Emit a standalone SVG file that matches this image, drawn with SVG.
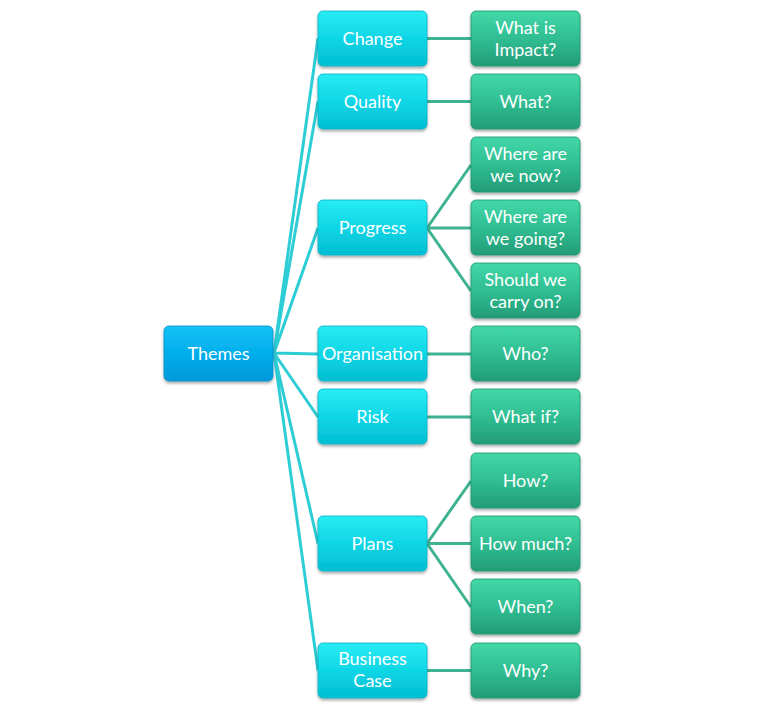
<svg xmlns="http://www.w3.org/2000/svg" width="779" height="711" viewBox="0 0 779 711">
<defs>
<linearGradient id="gRoot" x1="0" y1="0" x2="0" y2="1"><stop offset="0" stop-color="#14C2F6"/><stop offset="0.5" stop-color="#02AEEC"/><stop offset="1" stop-color="#0098DA"/></linearGradient>
<linearGradient id="gL2" x1="0" y1="0" x2="0" y2="1"><stop offset="0" stop-color="#28ECF4"/><stop offset="0.5" stop-color="#0FD6E6"/><stop offset="1" stop-color="#02BDD2"/></linearGradient>
<linearGradient id="gL3" x1="0" y1="0" x2="0" y2="1"><stop offset="0" stop-color="#42D8A8"/><stop offset="0.5" stop-color="#30BE92"/><stop offset="1" stop-color="#239C77"/></linearGradient>
<filter id="sh" x="-10%" y="-10%" width="120%" height="130%"><feDropShadow dx="0" dy="2" stdDeviation="1.5" flood-color="#000" flood-opacity="0.35"/></filter>
</defs>
<style>
.n rect{filter:url(#sh)}
.root rect{fill:url(#gRoot);stroke:#0090C8;stroke-width:0.8}
.l2 rect{fill:url(#gL2);stroke:#06B4C4;stroke-width:0.8}
.l3 rect{fill:url(#gL3);stroke:#1F9470;stroke-width:0.8}
text{font-family:Lato,"Liberation Sans",sans-serif;font-size:18px;fill:#FFFFFF;text-anchor:middle}
.c1{stroke:#2DCDD6;stroke-width:3;fill:none}
.c2{stroke:#3DB391;stroke-width:3;fill:none}
</style>
<g id="connectors">
<path class="c1" d="M274 353L318 38.5M274 353L318 101.5M274 353L318 228M274 353L318 354M274 353L318 417M274 353L318 543.5M274 353L318 670.5"/>
<path class="c2" d="M427 38.5L471 38.5M427 101.5L471 101.5M427 228L471 165M427 228L471 228M427 228L471 291M427 354L471 354M427 417L471 417M427 543.5L471 481M427 543.5L471 543.5M427 543.5L471 607M427 670.5L471 670.5"/>
</g>
<g id="themes" class="n root"><rect x="164" y="326" width="109" height="55" rx="5"/><text x="218.5" y="360">Themes</text></g>
<g id="change" class="n l2"><rect x="318" y="11" width="109" height="55" rx="5"/><text x="372.5" y="45">Change</text></g>
<g id="quality" class="n l2"><rect x="318" y="74" width="109" height="55" rx="5"/><text x="372.5" y="108">Quality</text></g>
<g id="progress" class="n l2"><rect x="318" y="200" width="109" height="55" rx="5"/><text x="372.5" y="234">Progress</text></g>
<g id="organisation" class="n l2"><rect x="318" y="326" width="109" height="55" rx="5"/><text x="372.5" y="360">Organisation</text></g>
<g id="risk" class="n l2"><rect x="318" y="389" width="109" height="55" rx="5"/><text x="372.5" y="423">Risk</text></g>
<g id="plans" class="n l2"><rect x="318" y="516" width="109" height="55" rx="5"/><text x="372.5" y="550">Plans</text></g>
<g id="business-case" class="n l2"><rect x="318" y="643" width="109" height="55" rx="5"/><text x="372.5" y="665">Business</text><text x="372.5" y="687">Case</text></g>
<g id="what-is-impact" class="n l3"><rect x="471" y="11" width="109" height="55" rx="5"/><text x="525.5" y="34">What is</text><text x="525.5" y="56">Impact?</text></g>
<g id="what" class="n l3"><rect x="471" y="74" width="109" height="55" rx="5"/><text x="525.5" y="108">What?</text></g>
<g id="where-now" class="n l3"><rect x="471" y="137" width="109" height="55" rx="5"/><text x="525.5" y="160">Where are</text><text x="525.5" y="182">we now?</text></g>
<g id="where-going" class="n l3"><rect x="471" y="200" width="109" height="55" rx="5"/><text x="525.5" y="223">Where are</text><text x="525.5" y="245">we going?</text></g>
<g id="carry-on" class="n l3"><rect x="471" y="263" width="109" height="55" rx="5"/><text x="525.5" y="286">Should we</text><text x="525.5" y="308">carry on?</text></g>
<g id="who" class="n l3"><rect x="471" y="326" width="109" height="55" rx="5"/><text x="525.5" y="360">Who?</text></g>
<g id="what-if" class="n l3"><rect x="471" y="389" width="109" height="55" rx="5"/><text x="525.5" y="423">What if?</text></g>
<g id="how" class="n l3"><rect x="471" y="453" width="109" height="55" rx="5"/><text x="525.5" y="487">How?</text></g>
<g id="how-much" class="n l3"><rect x="471" y="516" width="109" height="55" rx="5"/><text x="525.5" y="550">How much?</text></g>
<g id="when" class="n l3"><rect x="471" y="579" width="109" height="55" rx="5"/><text x="525.5" y="613">When?</text></g>
<g id="why" class="n l3"><rect x="471" y="643" width="109" height="55" rx="5"/><text x="525.5" y="677">Why?</text></g>
</svg>
